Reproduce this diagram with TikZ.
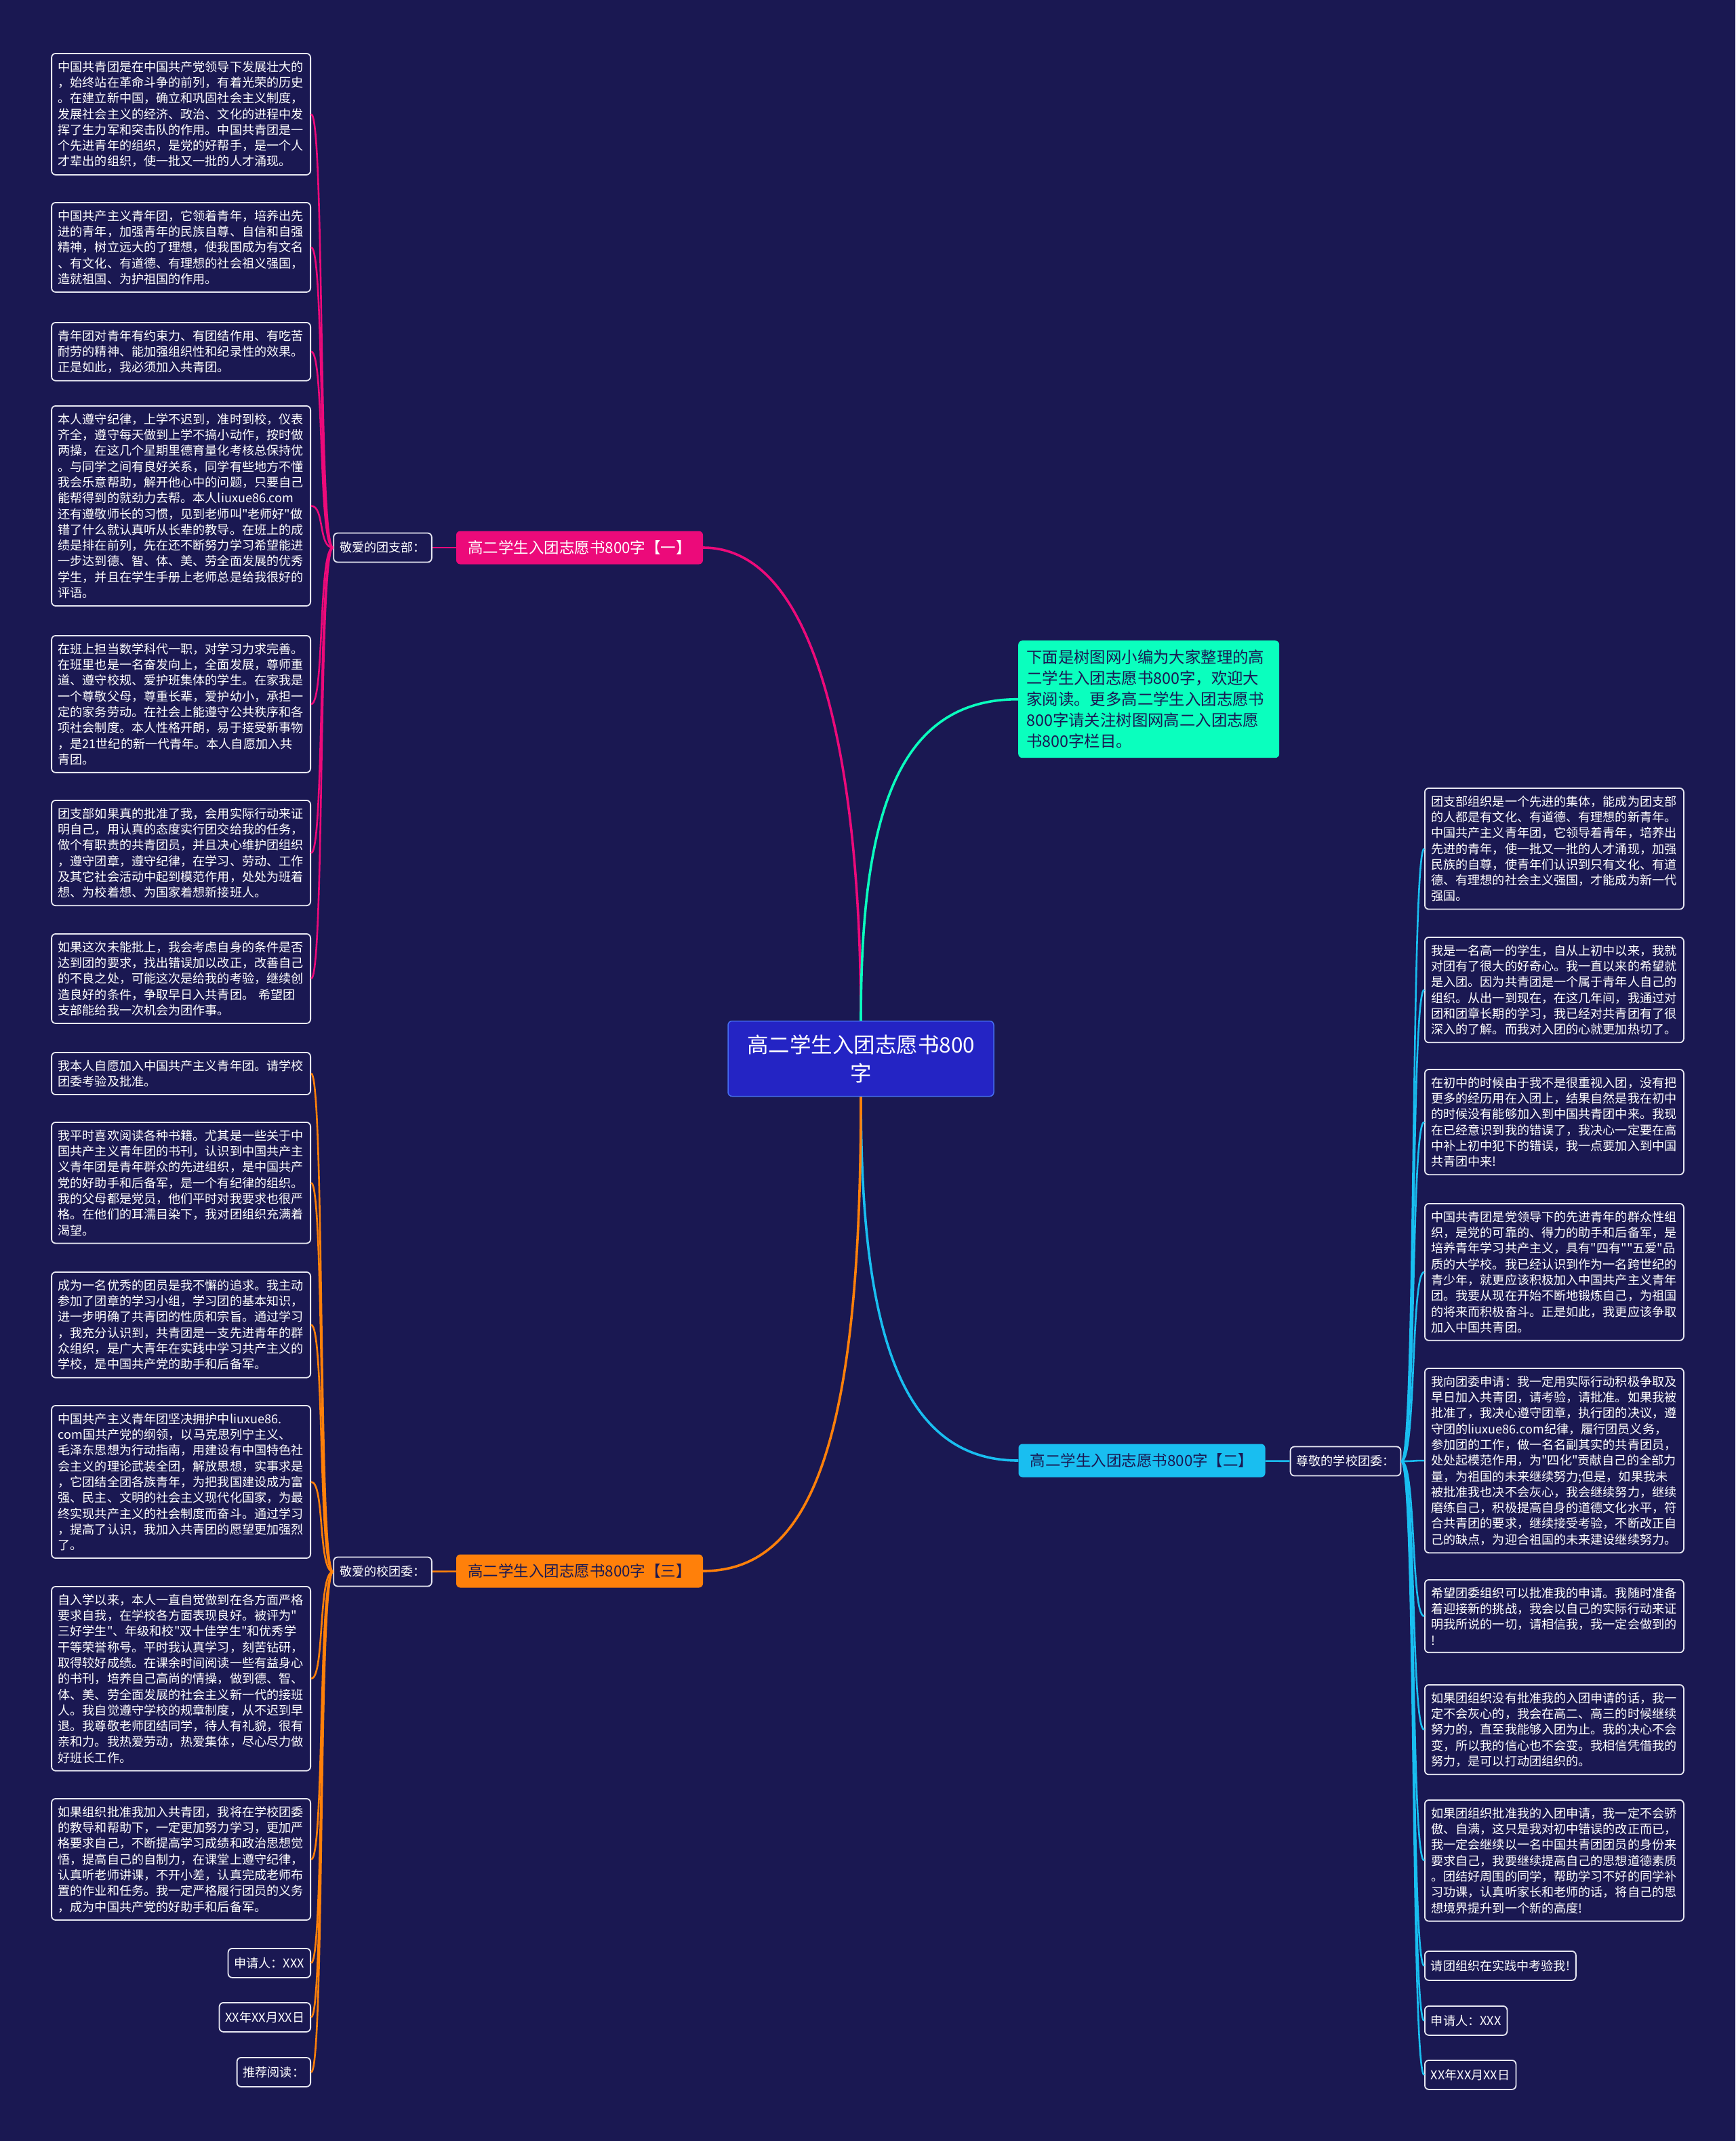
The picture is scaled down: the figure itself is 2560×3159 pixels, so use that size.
\documentclass[tikz,border=0pt]{standalone}
\usepackage{fontspec}
\setmainfont{Noto Sans CJK SC}
\newfontfamily\plainfont{Noto Sans CJK SC}
\newcommand\dq{{\plainfont"}}
\usepackage{tikz}
\usetikzlibrary{positioning}
\usepackage{xcolor}
\definecolor{bgnavy}{RGB}{26,24,82}
\definecolor{pinkbr}{RGB}{236,10,122}
\definecolor{orangebr}{RGB}{255,128,10}
\definecolor{bluebr}{RGB}{25,190,240}
\definecolor{aquabr}{RGB}{10,255,190}
\definecolor{rootfill}{RGB}{36,36,196}
\definecolor{rootline}{RGB}{70,110,240}
\definecolor{leafline}{RGB}{232,232,242}

\tikzset{
  leaf/.style={draw=leafline, fill=bgnavy, text=white, rounded corners=6pt,
    line width=1.8pt, font=\fontsize{18.1}{23.3}\selectfont, align=left,
    inner xsep=9.5pt, inner ysep=11pt},
  leafbox/.style={leaf, text width=363pt},
  lbl/.style={leaf, minimum height=43pt, inner xsep=9pt},
  branch/.style={rounded corners=6pt, minimum width=364pt, minimum height=49pt,
    font=\fontsize{22.5}{27}\selectfont, inner sep=0pt},
  limb/.style={line width=3.6pt},
  twig/.style={line width=2.6pt}
}

\begin{document}
\begin{tikzpicture}[x=1pt, y=-1pt]
  \fill[bgnavy] (0,0) rectangle (2560,3159);
  \useasboundingbox (0,0) rectangle (2560,3159);

  % Central node
  \node[rectangle, rounded corners=6pt, draw=rootline, line width=1.5pt, fill=rootfill,
    text=white, minimum width=392pt, minimum height=111pt, align=center,
    font=\fontsize{31.5}{42}\selectfont] (root) at (1270,1562) {高二学生入团志愿书800\\字};

  % intro
  \node[rectangle, rounded corners=6pt, fill=aquabr, text=bgnavy, anchor=north west,
    minimum width=385pt, minimum height=173pt, text width=361pt, align=left,
    inner xsep=12pt, inner ysep=12pt, font=\fontsize{23.4}{31}\selectfont] (intro) at (1502,945)
    {下面是树图网小编为大家整理的高\\二学生入团志愿书800字，欢迎大\\家阅读。更多高二学生入团志愿书\\800字请关注树图网高二入团志愿\\书800字栏目。};

  % three branches
  \node[branch, fill=pinkbr, text=white] (br1) at (855,808) {高二学生入团志愿书800字【一】};
  \node[branch, fill=bluebr, text=bgnavy] (br2) at (1684.5,2155) {高二学生入团志愿书800字【二】};
  \node[branch, fill=orangebr, text=bgnavy] (br3) at (855,2318) {高二学生入团志愿书800字【三】};

  \node[lbl] (labA) at (564.5,808) {敬爱的团支部：};
  \node[lbl] (labB) at (1985,2156) {尊敬的学校团委：};
  \node[lbl] (labC) at (564.5,2319) {敬爱的校团委：};

  \draw[limb, pinkbr] (br1.east) .. controls +(190,0) and +(0,-300) .. (root.north);
  \draw[limb, aquabr] (root.north) .. controls +(0,-300) and +(-180,0) .. (intro.west);
  \draw[limb, bluebr] (root.south) .. controls +(0,330) and +(-180,0) .. (br2.west);
  \draw[limb, orangebr] (root.south) .. controls +(0,480) and +(170,0) .. (br3.east);

  \draw[twig, pinkbr] (labA) -- (br1);
  \draw[twig, bluebr] (br2) -- (labB);
  \draw[twig, orangebr] (labC) -- (br3);

  % left column, branch one
  \node[leafbox, anchor=north east] (a1) at (459,78)
    {中国共青团是在中国共产党领导下发展壮大的\\，始终站在革命斗争的前列，有着光荣的历史\\。在建立新中国，确立和巩固社会主义制度，\\发展社会主义的经济、政治、文化的进程中发\\挥了生力军和突击队的作用。中国共青团是一\\个先进青年的组织，是党的好帮手，是一个人\\才辈出的组织，使一批又一批的人才涌现。};
  \node[leafbox, anchor=north east] (a2) at (459,298)
    {中国共产主义青年团，它领着青年，培养出先\\进的青年，加强青年的民族自尊、自信和自强\\精神，树立远大的了理想，使我国成为有文名\\、有文化、有道德、有理想的社会祖义强国，\\造就祖国、为护祖国的作用。};
  \node[leafbox, anchor=north east] (a3) at (459,475)
    {青年团对青年有约束力、有团结作用、有吃苦\\耐劳的精神、能加强组织性和纪录性的效果。\\正是如此，我必须加入共青团。};
  \node[leafbox, anchor=north east] (a4) at (459,598)
    {本人遵守纪律，上学不迟到，准时到校，仪表\\齐全，遵守每天做到上学不搞小动作，按时做\\两操，在这几个星期里德育量化考核总保持优\\。与同学之间有良好关系，同学有些地方不懂\\我会乐意帮助，解开他心中的问题，只要自己\\能帮得到的就劲力去帮。本人liuxue86.com\\还有遵敬师长的习惯，见到老师叫\dq 老师好\dq 做\\错了什么就认真听从长辈的教导。在班上的成\\绩是排在前列，先在还不断努力学习希望能进\\一步达到德、智、体、美、劳全面发展的优秀\\学生，并且在学生手册上老师总是给我很好的\\评语。};
  \node[leafbox, anchor=north east] (a5) at (459,937)
    {在班上担当数学科代一职，对学习力求完善。\\在班里也是一名奋发向上，全面发展，尊师重\\道、遵守校规、爱护班集体的学生。在家我是\\一个尊敬父母，尊重长辈，爱护幼小，承担一\\定的家务劳动。在社会上能遵守公共秩序和各\\项社会制度。本人性格开朗，易于接受新事物\\，是21世纪的新一代青年。本人自愿加入共\\青团。};
  \node[leafbox, anchor=north east] (a6) at (459,1180)
    {团支部如果真的批准了我，会用实际行动来证\\明自己，用认真的态度实行团交给我的任务，\\做个有职责的共青团员，并且决心维护团组织\\，遵守团章，遵守纪律，在学习、劳动、工作\\及其它社会活动中起到模范作用，处处为班着\\想、为校着想、为国家着想新接班人。};
  \node[leafbox, anchor=north east] (a7) at (459,1377)
    {如果这次未能批上，我会考虑自身的条件是否\\达到团的要求，找出错误加以改正，改善自己\\的不良之处，可能这次是给我的考验，继续创\\造良好的条件，争取早日入共青团。~希望团\\支部能给我一次机会为团作事。};

  % left column, branch three
  \node[leafbox, anchor=north east] (a8) at (459,1552)
    {我本人自愿加入中国共产主义青年团。请学校\\团委考验及批准。};
  \node[leafbox, anchor=north east] (a9) at (459,1655)
    {我平时喜欢阅读各种书籍。尤其是一些关于中\\国共产主义青年团的书刊，认识到中国共产主\\义青年团是青年群众的先进组织，是中国共产\\党的好助手和后备军，是一个有纪律的组织。\\我的父母都是党员，他们平时对我要求也很严\\格。在他们的耳濡目染下，我对团组织充满着\\渴望。};
  \node[leafbox, anchor=north east] (a10) at (459,1876)
    {成为一名优秀的团员是我不懈的追求。我主动\\参加了团章的学习小组，学习团的基本知识，\\进一步明确了共青团的性质和宗旨。通过学习\\，我充分认识到，共青团是一支先进青年的群\\众组织，是广大青年在实践中学习共产主义的\\学校，是中国共产党的助手和后备军。};
  \node[leafbox, anchor=north east] (a11) at (459,2073)
    {中国共产主义青年团坚决拥护中liuxue86.\\com国共产党的纲领，以马克思列宁主义、\\毛泽东思想为行动指南，用建设有中国特色社\\会主义的理论武装全团，解放思想，实事求是\\，它团结全团各族青年，为把我国建设成为富\\强、民主、文明的社会主义现代化国家，为最\\终实现共产主义的社会制度而奋斗。通过学习\\，提高了认识，我加入共青团的愿望更加强烈\\了。};
  \node[leafbox, anchor=north east] (a12) at (459,2340)
    {自入学以来，本人一直自觉做到在各方面严格\\要求自我，在学校各方面表现良好。被评为\dq\\三好学生\dq 、年级和校\dq 双十佳学生\dq 和优秀学\\干等荣誉称号。平时我认真学习，刻苦钻研，\\取得较好成绩。在课余时间阅读一些有益身心\\的书刊，培养自己高尚的情操，做到德、智、\\体、美、劳全面发展的社会主义新一代的接班\\人。我自觉遵守学校的规章制度，从不迟到早\\退。我尊敬老师团结同学，待人有礼貌，很有\\亲和力。我热爱劳动，热爱集体，尽心尽力做\\好班长工作。};
  \node[leafbox, anchor=north east] (a13) at (459,2653)
    {如果组织批准我加入共青团，我将在学校团委\\的教导和帮助下，一定更加努力学习，更加严\\格要求自己，不断提高学习成绩和政治思想觉\\悟，提高自己的自制力，在课堂上遵守纪律，\\认真听老师讲课，不开小差，认真完成老师布\\置的作业和任务。我一定严格履行团员的义务\\，成为中国共产党的好助手和后备军。};
  \node[lbl, anchor=north east] (a14) at (459,2874) {申请人：XXX};
  \node[lbl, anchor=north east] (a15) at (459,2954) {XX年XX月XX日};
  \node[lbl, anchor=north east] (a16) at (459,3035) {推荐阅读：};

  % right column, branch two
  \node[leafbox, anchor=north west] (b1) at (2101,1162)
    {团支部组织是一个先进的集体，能成为团支部\\的人都是有文化、有道德、有理想的新青年。\\中国共产主义青年团，它领导着青年，培养出\\先进的青年，使一批又一批的人才涌现，加强\\民族的自尊，使青年们认识到只有文化、有道\\德、有理想的社会主义强国，才能成为新一代\\强国。};
  \node[leafbox, anchor=north west] (b2) at (2101,1382)
    {我是一名高一的学生，自从上初中以来，我就\\对团有了很大的好奇心。我一直以来的希望就\\是入团。因为共青团是一个属于青年人自己的\\组织。从出一到现在，在这几年间，我通过对\\团和团章长期的学习，我已经对共青团有了很\\深入的了解。而我对入团的心就更加热切了。};
  \node[leafbox, anchor=north west] (b3) at (2101,1577)
    {在初中的时候由于我不是很重视入团，没有把\\更多的经历用在入团上，结果自然是我在初中\\的时候没有能够加入到中国共青团中来。我现\\在已经意识到我的错误了，我决心一定要在高\\中补上初中犯下的错误，我一点要加入到中国\\共青团中来!};
  \node[leafbox, anchor=north west] (b4) at (2101,1775)
    {中国共青团是党领导下的先进青年的群众性组\\织，是党的可靠的、得力的助手和后备军，是\\培养青年学习共产主义，具有\dq 四有\dq\dq 五爱\dq 品\\质的大学校。我已经认识到作为一名跨世纪的\\青少年，就更应该积极加入中国共产主义青年\\团。我要从现在开始不断地锻炼自己，为祖国\\的将来而积极奋斗。正是如此，我更应该争取\\加入中国共青团。};
  \node[leafbox, anchor=north west] (b5) at (2101,2018)
    {我向团委申请：我一定用实际行动积极争取及\\早日加入共青团，请考验，请批准。如果我被\\批准了，我决心遵守团章，执行团的决议，遵\\守团的liuxue86.com纪律，履行团员义务，\\参加团的工作，做一名名副其实的共青团员，\\处处起模范作用，为\dq 四化\dq 贡献自己的全部力\\量，为祖国的未来继续努力;但是，如果我未\\被批准我也决不会灰心，我会继续努力，继续\\磨练自己，积极提高自身的道德文化水平，符\\合共青团的要求，继续接受考验，不断改正自\\己的缺点，为迎合祖国的未来建设继续努力。};
  \node[leafbox, anchor=north west] (b6) at (2101,2330)
    {希望团委组织可以批准我的申请。我随时准备\\着迎接新的挑战，我会以自己的实际行动来证\\明我所说的一切，请相信我，我一定会做到的\\!};
  \node[leafbox, anchor=north west] (b7) at (2101,2485)
    {如果团组织没有批准我的入团申请的话，我一\\定不会灰心的，我会在高二、高三的时候继续\\努力的，直至我能够入团为止。我的决心不会\\变，所以我的信心也不会变。我相信凭借我的\\努力，是可以打动团组织的。};
  \node[leafbox, anchor=north west] (b8) at (2101,2655)
    {如果团组织批准我的入团申请，我一定不会骄\\傲、自满，这只是我对初中错误的改正而已，\\我一定会继续以一名中国共青团团员的身份来\\要求自己，我要继续提高自己的思想道德素质\\。团结好周围的同学，帮助学习不好的同学补\\习功课，认真听家长和老师的话，将自己的思\\想境界提升到一个新的高度!};
  \node[lbl, anchor=north west] (b9) at (2101,2878) {请团组织在实践中考验我!};
  \node[lbl, anchor=north west] (b10) at (2101,2959) {申请人：XXX};
  \node[lbl, anchor=north west] (b11) at (2101,3039) {XX年XX月XX日};

  % twigs to the leaves
  \foreach \k in {1,...,7}{
    \draw[twig, pinkbr] (labA.west) .. controls +(-22,0) and +(20,0) .. (a\k.east);
  }
  \foreach \k in {8,...,16}{
    \draw[twig, orangebr] (labC.west) .. controls +(-22,0) and +(20,0) .. (a\k.east);
  }
  \foreach \k in {1,...,11}{
    \draw[twig, bluebr] (labB.east) .. controls +(22,0) and +(-20,0) .. (b\k.west);
  }
\end{tikzpicture}
\end{document}
